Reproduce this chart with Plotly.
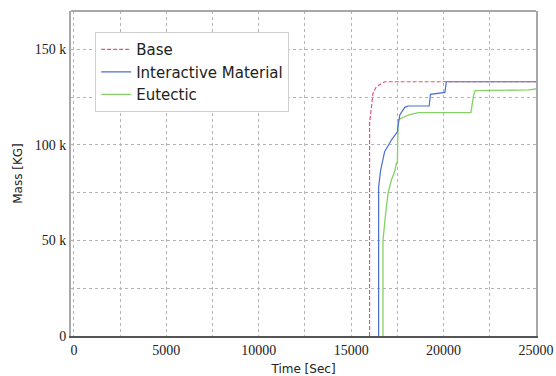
import plotly.graph_objects as go

# ---- data ----
base_t = [15995, 15995, 16050, 16180, 16360, 16810, 25000]
base_m = [0, 111200, 115600, 126900, 130400, 133000, 133000]

inter_t = [16485, 16485, 16595, 16810, 17175, 17500, 17540, 17630, 17900, 18080,
           19220, 19290, 20070, 20150, 25000]
inter_m = [0, 78000, 86800, 96400, 102500, 106800, 110000, 115600, 119600, 120300,
           120300, 126400, 127400, 133000, 133000]

eut_t = [16720, 16720, 16866, 16994, 17174, 17353, 17445, 17500, 17536, 18080,
         18625, 21480, 21610, 21700, 24600, 25000]
eut_m = [0, 50000, 64200, 74600, 81600, 85900, 90300, 91000, 113000, 115600,
         116800, 116800, 125200, 128300, 128700, 129200]

x_ticks = [0, 2500, 5000, 7500, 10000, 12500, 15000, 17500, 20000, 22500, 25000]
x_labels = ["0", "", "5000", "", "10000", "", "15000", "", "20000", "", "25000"]
y_ticks = [0, 25000, 50000, 75000, 100000, 125000, 150000]
y_labels = ["0", "", "50 k", "", "100 k", "", "150 k"]

RED = "#e0557c"
BLUE = "#4a6fd0"
GREEN = "#84d166"

fig = go.Figure()
fig.add_trace(go.Scatter(x=eut_t, y=eut_m, mode="lines", name="Eutectic",
                         line=dict(color=GREEN, width=1.3)))
fig.add_trace(go.Scatter(x=inter_t, y=inter_m, mode="lines", name="Interactive Material",
                         line=dict(color=BLUE, width=1.2)))
fig.add_trace(go.Scatter(x=base_t, y=base_m, mode="lines", name="Base",
                         line=dict(color=RED, width=1.2, dash="4px,2px")))

tick_font = dict(family="Liberation Serif", size=14, color="#222")
fig.update_layout(
    width=556, height=376,
    margin=dict(l=71, r=20, t=11, b=40),
    plot_bgcolor="white", paper_bgcolor="white",
    font=dict(family="DejaVu Sans", size=12, color="#222"),
    showlegend=True,
    legend=dict(x=0.052, y=0.935, xanchor="left", yanchor="top",
                traceorder="reversed", bgcolor="white",
                bordercolor="#d0d0d0", borderwidth=1,
                font=dict(family="DejaVu Sans", size=15, color="#222")),
    xaxis=dict(range=[-160, 25000], tickvals=x_ticks, ticktext=x_labels,
               tickfont=tick_font, showgrid=True, gridcolor="#b4b4b4",
               griddash="dot", gridwidth=1, zeroline=False, automargin=False,
               showline=True, linecolor="#555", linewidth=1.5,
               title=dict(text="Time [Sec]", font=dict(size=12), standoff=12)),
    yaxis=dict(range=[0, 170000], tickvals=y_ticks, ticktext=y_labels,
               tickfont=tick_font, showgrid=True, gridcolor="#b4b4b4",
               griddash="dot", gridwidth=1, zeroline=False, automargin=False,
               showline=True, mirror=True, linecolor="#a8a8a8", linewidth=2,
               title=dict(text="Mass [KG]", font=dict(size=12), standoff=10)),
    shapes=[dict(type="line", xref="paper", yref="paper", x0=0, x1=1, y0=1, y1=1,
                 line=dict(color="#a8a8a8", width=2))],
)

fig.write_html("out.html")
